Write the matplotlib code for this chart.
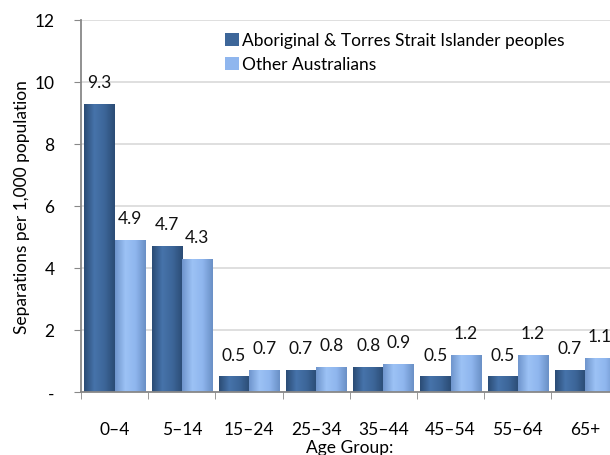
import matplotlib.pyplot as plt
import numpy as np
from matplotlib.colors import LinearSegmentedColormap

# data
age_groups = ['0–4', '5–14', '15–24', '25–34', '35–44', '45–54', '55–64', '65+']
indigenous = [9.3, 4.7, 0.5, 0.7, 0.8, 0.5, 0.5, 0.7]
other_aus = [4.9, 4.3, 0.7, 0.8, 0.9, 1.2, 1.2, 1.1]
series_names = ['Aboriginal & Torres Strait Islander peoples', 'Other Australians']
y_ticks = [0, 2, 4, 6, 8, 10, 12]
y_tick_labels = ['-', '2', '4', '6', '8', '10', '12']

plt.rcParams['font.family'] = ['Lato', 'DejaVu Sans']
fs = 12.5

fig = plt.figure(figsize=(6.1, 4.56), dpi=100)
ax = fig.add_axes([0.1328, 0.1382, 0.8813, 0.816])

x = np.arange(len(age_groups))
w = 0.45

dark = '#3D6699'
light = '#8FB6EE'
dark_cmap = LinearSegmentedColormap.from_list('d', ['#2B4C75', '#4673AA', '#3D6699', '#2B4C75'])
light_cmap = LinearSegmentedColormap.from_list('l', ['#6F95CC', '#9CC2F5', '#8FB6EE', '#6A90C6'])

bars1 = ax.bar(x - w / 2, indigenous, w, color=dark, label=series_names[0], zorder=2)
bars2 = ax.bar(x + w / 2, other_aus, w, color=light, label=series_names[1], zorder=2)

# horizontal shading on each bar
grad = np.linspace(0, 1, 64).reshape(1, -1)
for bars, cmap in [(bars1, dark_cmap), (bars2, light_cmap)]:
    for b in bars:
        x0, y0 = b.get_x(), b.get_y()
        im = ax.imshow(grad, cmap=cmap, aspect='auto', zorder=2.5,
                       extent=[x0, x0 + b.get_width(), y0, y0 + b.get_height()])
        im.set_clip_path(b)

for bars, vals in [(bars1, indigenous), (bars2, other_aus)]:
    for b, v in zip(bars, vals):
        ax.annotate(f'{v:.1f}', (b.get_x() + b.get_width() / 2, v),
                    xytext=(0, 10), textcoords='offset points',
                    ha='center', va='bottom', fontsize=fs, color='#111111')

ax.set_xlim(-0.5, len(age_groups) - 0.5)
ax.set_ylim(0, 12)
ax.set_yticks(y_ticks)
ax.set_yticklabels(y_tick_labels)
ax.set_xticks(x)
ax.set_xticklabels(age_groups)
ax.set_xticks(np.arange(len(age_groups)) - 0.5, minor=True)

ax.grid(axis='y', color='#D9D9D9', lw=1.2, zorder=0)
ax.set_axisbelow(True)

for s in ['top', 'right']:
    ax.spines[s].set_visible(False)
for s in ['left', 'bottom']:
    ax.spines[s].set_color('#888888')
    ax.spines[s].set_linewidth(1.3)

ax.tick_params(axis='y', length=5, color='#888888', pad=14, labelsize=fs)
ax.tick_params(axis='x', which='major', length=0, pad=21, labelsize=fs)
ax.tick_params(axis='x', which='minor', length=5, color='#888888')

ax.set_ylabel('Separations per 1,000 population', fontsize=fs, labelpad=3)
ax.set_xlabel('Age Group:', fontsize=fs, labelpad=1)

leg = ax.legend(loc='upper left', bbox_to_anchor=(0.255, 0.985), frameon=False,
                fontsize=fs, handlelength=0.8, handleheight=0.8,
                handletextpad=0.15, labelspacing=0.45, borderaxespad=0)

fig.savefig('out.png', dpi=100)
